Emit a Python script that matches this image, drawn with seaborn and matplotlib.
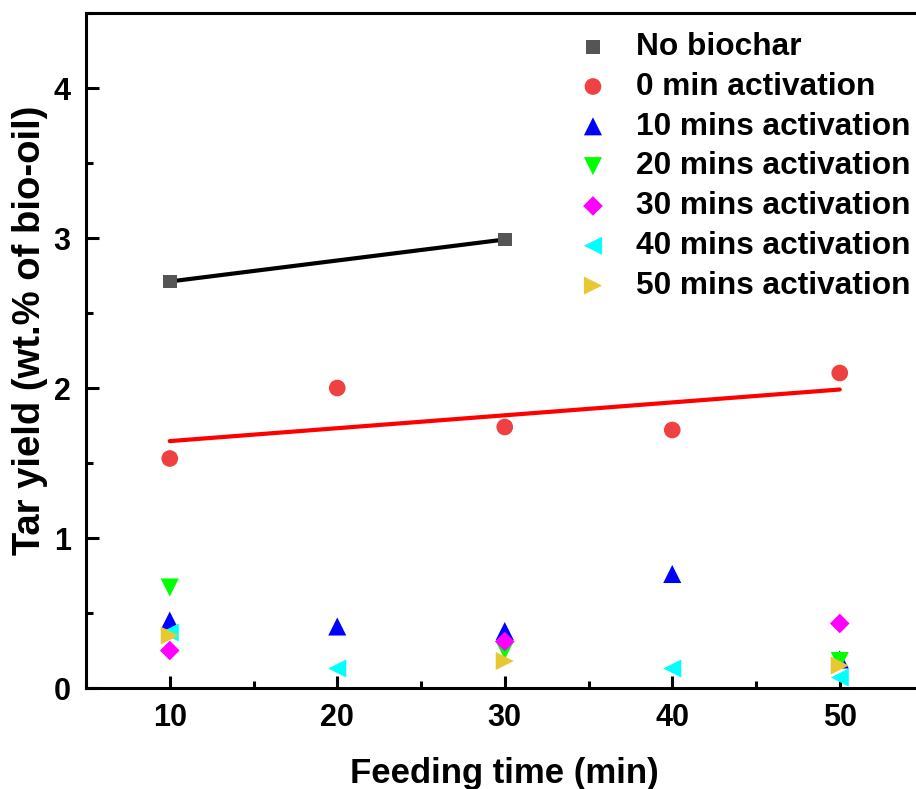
import matplotlib
matplotlib.use("Agg")
import matplotlib.pyplot as plt
import seaborn as sns
import numpy as np
import pandas as pd
from matplotlib.ticker import MultipleLocator

sns.set_theme(style="ticks")
plt.rcParams['font.family'] = ['Liberation Sans', 'DejaVu Sans']
plt.rcParams['font.weight'] = 'bold'
for k in ['text.color', 'axes.labelcolor', 'xtick.color', 'ytick.color', 'axes.edgecolor']:
    plt.rcParams[k] = 'black'

# ---- data ----
series_names = ["No biochar", "0 min activation", "10 mins activation",
                "20 mins activation", "30 mins activation",
                "40 mins activation", "50 mins activation"]
x_nobiochar = [10, 30]
y_nobiochar = [2.71, 2.99]
x_0min = [10, 20, 30, 40, 50]
y_0min = [1.53, 2.00, 1.74, 1.72, 2.10]
x_10min = [10, 20, 30, 40, 50]
y_10min = [0.45, 0.41, 0.38, 0.76, 0.19]
x_20min = [10, 30, 50]
y_20min = [0.67, 0.25, 0.18]
x_30min = [10, 30, 50]
y_30min = [0.25, 0.31, 0.43]
x_40min = [10, 20, 40, 50]
y_40min = [0.37, 0.13, 0.13, 0.07]
x_50min = [10, 30, 50]
y_50min = [0.35, 0.18, 0.15]

xs = [x_nobiochar, x_0min, x_10min, x_20min, x_30min, x_40min, x_50min]
ys = [y_nobiochar, y_0min, y_10min, y_20min, y_30min, y_40min, y_50min]
colors = ["#555555", "#ef4141", "#0000ff", "#00ff00", "#ff00ff", "#00ffff", "#e8c832"]
markers = ["s", "o", "^", "v", "D", "<", ">"]
msizes = [10, 12, 13, 13, 10, 13, 13]

fig = plt.figure(figsize=(9.16, 7.89), dpi=100)
ax = fig.add_axes([86/916, 101/789, 837.5/916, 675/789])

for xv, yv, name, c, m, ms in zip(xs, ys, series_names, colors, markers, msizes):
    sns.scatterplot(x=xv, y=yv, ax=ax, color=c, marker=m, s=ms**2,
                    edgecolor='none', linewidth=0, label=name, zorder=3)

# linear fits
sns.regplot(x=x_nobiochar, y=y_nobiochar, ax=ax, scatter=False, ci=None,
            color="black", line_kws=dict(linewidth=3, zorder=2))
sns.regplot(x=x_0min, y=y_0min, ax=ax, scatter=False, ci=None,
            color="#ff0000", line_kws=dict(linewidth=3, zorder=2))

ax.set_xlim(5, 55)
ax.set_ylim(0, 4.5)
ax.set_xticks([10, 20, 30, 40, 50])
ax.set_yticks([0, 1, 2, 3, 4])
ax.xaxis.set_minor_locator(MultipleLocator(5))
ax.yaxis.set_minor_locator(MultipleLocator(0.5))
ax.tick_params(which='major', direction='in', length=9, width=2.2, labelsize=22,
               pad=11, colors='black')
ax.tick_params(which='minor', direction='in', length=5, width=2.2, colors='black')
ax.tick_params(axis='x', top=False, which='both')
ax.tick_params(axis='y', right=False, which='both')
for lab in ax.get_xticklabels() + ax.get_yticklabels():
    lab.set_fontweight('bold')
for sp in ax.spines.values():
    sp.set_linewidth(2.2)
    sp.set_color('black')

ax.set_xlabel("Feeding time (min)", fontsize=25, fontweight='bold', labelpad=17)
ax.set_ylabel("Tar yield (wt.% of bio-oil)", fontsize=27.5, fontweight='bold')
ax.yaxis.set_label_coords(-0.045, 0.53)

leg = ax.legend(loc='upper left', bbox_to_anchor=(570/916, 1 - 32/789),
                bbox_transform=fig.transFigure, frameon=False,
                prop=dict(size=22.8, weight='bold'), labelspacing=0.31,
                handletextpad=0.65, handlelength=1.45, borderpad=0, borderaxespad=0)
for t in leg.get_texts():
    t.set_color('black')

fig.savefig("out.png", dpi=100)
